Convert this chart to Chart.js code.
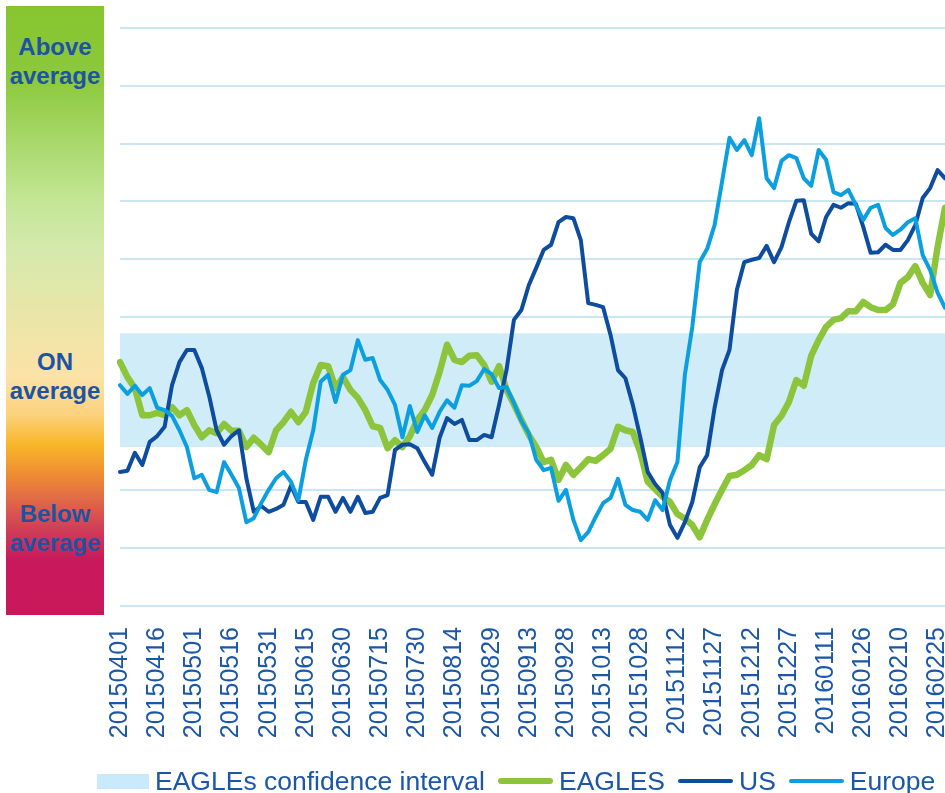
<!DOCTYPE html>
<html>
<head>
<meta charset="utf-8">
<script src="https://cdn.jsdelivr.net/npm/chart.js@4.4.1/dist/chart.umd.min.js"></script>
<style>
  body { margin: 0; background: #fff; font-family: "Liberation Sans", Arial, sans-serif; }
  #wrap { position: relative; width: 945px; height: 793px; overflow: hidden; }
  #c { position: absolute; left: 0; top: 0; }
  #scale {
    position: absolute; left: 6px; top: 6px; width: 98px; height: 609px;
    background: linear-gradient(to bottom, #86c52f 0%, #8cc93c 12%, #c3e695 32%, #d5e9ad 40%, #e8e6a8 50%,
      #fce2a6 61%, #fbd27e 67%, #f8b72a 72%, #ee8c33 77%, #e06a47 81%, #d03d57 86%, #c8195c 91%, #c8185a 100%);
  }
  .lvl { position: absolute; left: 0; width: 98px; text-align: center; font-weight: bold;
    font-size: 24px; line-height: 29px; color: #1d53a3; }
  #legend { position: absolute; left: 97px; top: 766px; height: 30px; display: flex; align-items: center;
    font-size: 26.5px; color: #1b57a8; white-space: nowrap; }
  #legend .sw { margin-right: 6px; }
  #legend .tx { margin-right: 13px; }
</style>
</head>
<body>
<div id="wrap">
  <canvas id="c" width="945" height="793"></canvas>
  <div id="scale">
    <div class="lvl" style="top:26px">Above<br>average</div>
    <div class="lvl" style="top:341px">ON<br>average</div>
    <div class="lvl" style="top:493px">Below<br>average</div>
  </div>
  <div id="legend">
    <span class="sw" style="width:52px;height:15px;background:#c8eafa"></span><span class="tx">EAGLEs confidence interval</span>
    <span class="sw" style="width:55px;height:6px;border-radius:3px;background:#8cc43c"></span><span class="tx">EAGLES</span>
    <span class="sw" style="width:55px;height:4px;border-radius:2px;background:#0e4c9f"></span><span class="tx">US</span>
    <span class="sw" style="width:55px;height:4px;border-radius:2px;background:#0c9fe0"></span><span class="tx">Europe</span>
  </div>
</div>
<script>
// dates, one every 3 days
const dates = [
  "20150401","20150404","20150407","20150410","20150413","20150416","20150419","20150422","20150425","20150428",
  "20150501","20150504","20150507","20150510","20150513","20150516","20150519","20150522","20150525","20150528","20150531",
  "20150603","20150606","20150609","20150612","20150615","20150618","20150621","20150624","20150627","20150630",
  "20150703","20150706","20150709","20150712","20150715","20150718","20150721","20150724","20150727","20150730",
  "20150802","20150805","20150808","20150811","20150814","20150817","20150820","20150823","20150826","20150829",
  "20150901","20150904","20150907","20150910","20150913","20150916","20150919","20150922","20150925","20150928",
  "20151001","20151004","20151007","20151010","20151013","20151016","20151019","20151022","20151025","20151028","20151031",
  "20151103","20151106","20151109","20151112","20151115","20151118","20151121","20151124","20151127","20151130",
  "20151203","20151206","20151209","20151212","20151215","20151218","20151221","20151224","20151227","20151230",
  "20160102","20160105","20160108","20160111","20160114","20160117","20160120","20160123","20160126","20160129",
  "20160201","20160204","20160207","20160210","20160213","20160216","20160219","20160222","20160225","20160228"
];

// labels shown on the x axis
const tickLabels = [
  "20150401","20150416","20150501","20150516","20150531","20150615","20150630","20150715","20150730","20150814","20150829",
  "20150913","20150928","20151013","20151028","20151112","20151127","20151212","20151227","20160111","20160126","20160210","20160225"
];

const eagles = [
  42.2,39.6,37.7,33.0,33.0,33.4,33.0,34.4,33.0,33.9,31.3,29.2,30.4,29.9,31.5,30.3,30.3,27.5,29.1,27.9,
  26.6,30.4,31.8,33.6,31.8,33.6,38.6,41.7,41.5,37.7,39.6,37.4,36.0,33.9,31.1,30.8,27.3,28.7,27.5,29.4,
  32.2,33.9,36.5,40.5,45.2,42.6,42.2,43.3,43.4,41.7,38.8,41.5,37.4,34.9,32.2,29.6,27.5,24.9,25.3,21.8,
  24.4,22.7,24.0,25.4,25.1,26.1,27.2,31.0,30.4,30.1,26.6,21.5,20.2,18.9,18.0,15.9,15.1,14.0,11.9,14.9,
  17.6,20.1,22.5,22.7,23.5,24.4,26.1,25.4,31.3,32.9,35.3,39.1,38.1,43.3,46.0,48.3,49.5,49.8,51.0,51.0,
  52.6,51.7,51.2,51.2,52.2,55.9,56.9,58.8,55.9,53.8,62.1,68.9
];

const us = [
  23.2,23.4,26.5,24.4,28.4,29.4,31.0,38.2,42.2,44.3,44.3,41.2,36.3,30.4,27.9,29.4,30.4,22.1,16.3,17.3,
  16.3,16.8,17.5,20.8,18.0,18.0,14.9,18.9,18.9,16.3,18.7,16.3,18.9,16.1,16.3,18.7,19.2,27.0,27.9,28.0,
  27.3,24.9,22.7,29.1,32.5,31.5,32.2,28.7,28.7,29.6,29.2,34.8,40.8,49.5,51.2,55.5,58.5,61.6,62.5,66.4,
  67.3,67.1,63.3,52.4,52.1,51.7,46.9,40.8,39.4,34.8,29.2,23.2,21.1,19.6,14.0,11.8,14.5,18.0,24.0,26.1,
  34.3,40.8,44.3,54.7,59.5,59.9,60.2,62.3,59.5,62.1,66.4,70.1,70.2,64.4,63.1,67.3,69.4,68.9,69.7,69.6,
  65.6,61.1,61.2,62.5,61.6,61.6,63.3,65.9,70.6,72.3,75.4,74.0
];

const europe = [
  38.2,36.7,38.1,36.5,37.7,34.3,33.9,32.9,30.4,27.5,22.1,22.7,20.1,19.7,24.9,22.7,20.4,14.5,15.2,17.8,
  20.1,22.1,23.2,21.5,18.3,25.3,30.4,38.8,40.0,35.3,40.0,40.8,46.0,42.6,42.9,39.1,37.4,34.8,29.2,34.6,
  30.1,33.0,30.8,33.6,35.6,34.3,38.2,38.1,38.9,41.0,40.1,37.7,37.9,35.1,32.0,29.9,25.3,23.5,23.9,18.2,
  20.1,14.9,11.4,12.8,15.4,17.8,18.7,22.0,17.5,16.6,16.3,14.9,18.3,16.6,21.8,24.9,40.0,48.3,59.5,61.8,
  65.9,73.4,81.0,78.9,80.6,78.0,84.4,74.0,72.3,77.0,78.0,77.5,74.0,72.7,78.9,77.2,71.6,71.1,72.0,69.4,
  66.8,68.9,69.4,65.4,64.2,65.1,66.4,67.1,60.7,58.1,54.2,51.6
];

// confidence interval of EAGLEs
const bandTop = 47.2;
const bandBottom = 27.5;

const tickFont = { family: "'Liberation Sans', Arial, sans-serif", size: 25 };

new Chart(document.getElementById("c"), {
  type: "line",
  data: {
    labels: dates,
    datasets: [
      { label: "Europe", data: europe, borderColor: "#0c9fe0", borderWidth: 4, order: 1 },
      { label: "US", data: us, borderColor: "#0e4c9f", borderWidth: 4, order: 2 },
      { label: "EAGLES", data: eagles, borderColor: "#8cc43c", borderWidth: 6.5, order: 3 },
      {
        label: "EAGLEs confidence interval",
        data: dates.map(() => bandTop),
        fill: { value: bandBottom },
        backgroundColor: "#d0ecf8",
        borderWidth: 0,
        order: 4
      }
    ]
  },
  options: {
    responsive: false,
    animation: false,
    layout: { padding: { left: 120, right: 0, top: 28, bottom: 37 } },
    elements: {
      point: { radius: 0 },
      line: { tension: 0, borderJoinStyle: "round", borderCapStyle: "round" }
    },
    plugins: { legend: { display: false }, tooltip: { enabled: false } },
    scales: {
      x: {
        grid: { display: false },
        border: { display: false },
        ticks: {
          autoSkip: false,
          minRotation: 90,
          maxRotation: 90,
          padding: 13,
          color: "#1b57a8",
          font: tickFont,
          callback: (v, i) => (tickLabels.includes(dates[i]) ? dates[i] : "")
        },
        afterFit: s => { s.height = 150; s.paddingLeft = 0; s.paddingRight = 0; }
      },
      y: {
        min: 0,
        max: 100,
        ticks: { display: false, stepSize: 10 },
        grid: { color: "#c9e6f5", lineWidth: 2, drawTicks: false },
        border: { display: false },
        afterFit: s => { s.width = 0; }
      }
    }
  }
});
</script>
</body>
</html>
